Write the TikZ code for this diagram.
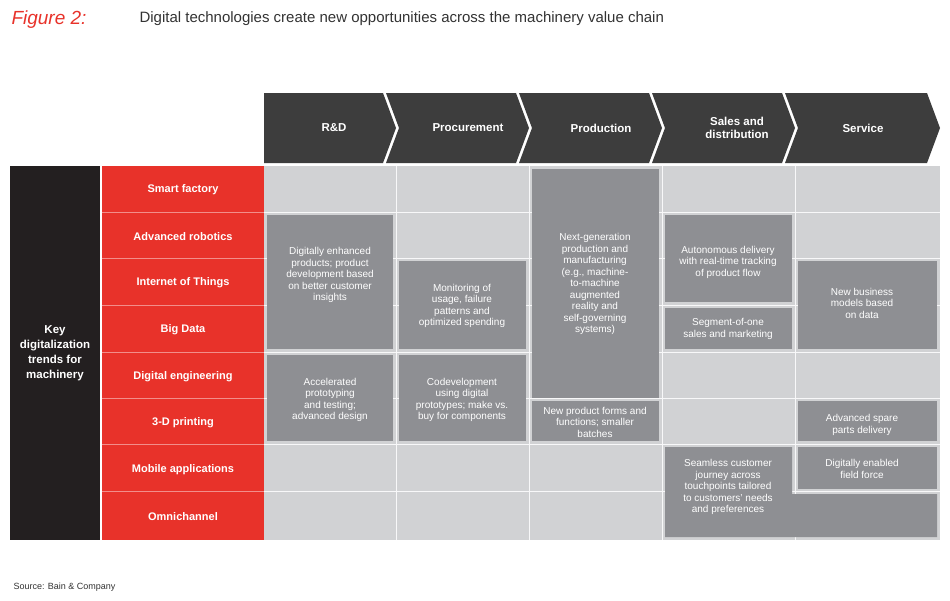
\documentclass[tikz,border=0pt]{standalone}
\usepackage{fontspec}
\setmainfont{Liberation Sans}
\definecolor{lg}{HTML}{D1D2D4}
\definecolor{dg}{HTML}{8E8F93}
\definecolor{rd}{HTML}{E8322A}
\definecolor{bk}{HTML}{231F20}
\definecolor{hd}{HTML}{3D3D3D}
\definecolor{tt}{HTML}{333333}
\begin{document}
\begin{tikzpicture}[x=1pt,y=-1pt,
  celltxt/.style={text=white,align=center,font=\fontsize{10}{11.5}\selectfont},
  rowtxt/.style={text=white,font=\bfseries\fontsize{11}{13}\selectfont},
  hdtxt/.style={text=white,align=center,font=\bfseries\fontsize{11.5}{13}\selectfont},
  dbox/.style={fill=dg}]
\useasboundingbox[fill=white] (0,0) rectangle (950,600);
% title
\node[anchor=west,text=rd,font=\itshape\fontsize{19}{20}\selectfont] (fig) at (8,20) {Figure 2:};
\node[anchor=west,text=tt,font=\fontsize{15}{18}\selectfont] (title) at (136,19) {Digital technologies create new opportunities across the machinery value chain};
\node[anchor=west,text=tt,font=\fontsize{9}{10}\selectfont] (src) at (10,587) {Source: Bain \& Company};
% headers
\fill[hd] (264,93)--(383,93)--(396,128)--(383,163)--(264,163)--cycle;
\foreach \xl/\xr in {396/529,529/662,662/795,795/940}{
  \fill[hd] (\xl-10,93)--(\xr-13,93)--(\xr,128)--(\xr-13,163)--(\xl-10,163)--(\xl+3,128)--cycle;}
\node[hdtxt] (h1) at (334,128) {R\&D};
\node[hdtxt] (h2) at (468,128) {Procurement};
\node[hdtxt] (h3) at (601,128) {Production};
\node[hdtxt] (h4) at (737,128) {Sales and\\distribution};
\node[hdtxt] (h5) at (863,128) {Service};
% left columns
\fill[bk] (10,166) rectangle (100,540);
\node[text=white,align=center,font=\bfseries\fontsize{11.5}{15}\selectfont] (key) at (55,353) {Key\\digitalization\\trends for\\machinery};
\fill[rd] (102,166) rectangle (264,540);
\foreach \y in {212,258,305,352,398,444,491}{\draw[rd!55!white,line width=1pt] (102,\y)--(264,\y);}
\foreach \t [count=\i] in {Smart factory,Advanced robotics,Internet of Things,Big Data,Digital engineering,3-D printing,Mobile applications,Omnichannel}{
  \pgfmathsetmacro\yc{166+46.75*(\i-0.5)}
  \node[rowtxt] (r\i) at (183,\yc) {\t};}
% grid
\fill[lg] (264,166) rectangle (940,540);
\foreach \y in {212,258,305,352,398,444,491}{\draw[white!85!lg,line width=1pt] (264,\y)--(940,\y);}
\foreach \x in {396,529,662,795}{\draw[white!85!lg,line width=1pt] (\x,166)--(\x,540);}
% dark boxes
\fill[dbox] (267,215) rectangle (393,349);
\node[celltxt] (b1) at (330,275) {Digitally enhanced\\products; product\\development based\\on better customer\\insights};
\fill[dbox] (267,355) rectangle (393,441);
\node[celltxt] (b2) at (330,400) {Accelerated\\prototyping\\and testing;\\advanced design};
\fill[dbox] (399,261) rectangle (526,349);
\node[celltxt] (b3) at (462,306) {Monitoring of\\usage, failure\\patterns and\\optimized spending};
\fill[dbox] (399,355) rectangle (526,441);
\node[celltxt] (b4) at (462,400) {Codevelopment\\using digital\\prototypes; make vs.\\buy for components};
\fill[dbox] (532,169) rectangle (659,398);
\node[celltxt] (b5) at (595,284) {Next-generation\\production and\\manufacturing\\(e.g., machine-\\to-machine\\augmented\\reality and\\self-governing\\systems)};
\fill[dbox] (532,401) rectangle (659,441);
\node[celltxt] (b6) at (595,422) {New product forms and\\functions; smaller\\batches};
\fill[dbox] (665,215) rectangle (792,302);
\node[celltxt] (b7) at (728,262) {Autonomous delivery\\with real-time tracking\\of product flow};
\fill[dbox] (665,308) rectangle (792,349);
\node[celltxt] (b8) at (728,329) {Segment-of-one\\sales and marketing};
\fill[dbox] (665,447)--(792,447)--(792,494)--(937,494)--(937,537)--(665,537)--cycle;
\node[celltxt] (b9) at (728,487) {Seamless customer\\journey across\\touchpoints tailored\\to customers' needs\\and preferences};
\fill[dbox] (798,261) rectangle (937,349);
\node[celltxt] (b10) at (862,303) {New business\\models based\\on data};
\fill[dbox] (798,401) rectangle (937,441);
\node[celltxt] (b11) at (862,425) {Advanced spare\\parts delivery};
\fill[dbox] (798,447) rectangle (937,489);
\node[celltxt] (b12) at (862,469) {Digitally enabled\\field force};
\end{tikzpicture}
\end{document}
